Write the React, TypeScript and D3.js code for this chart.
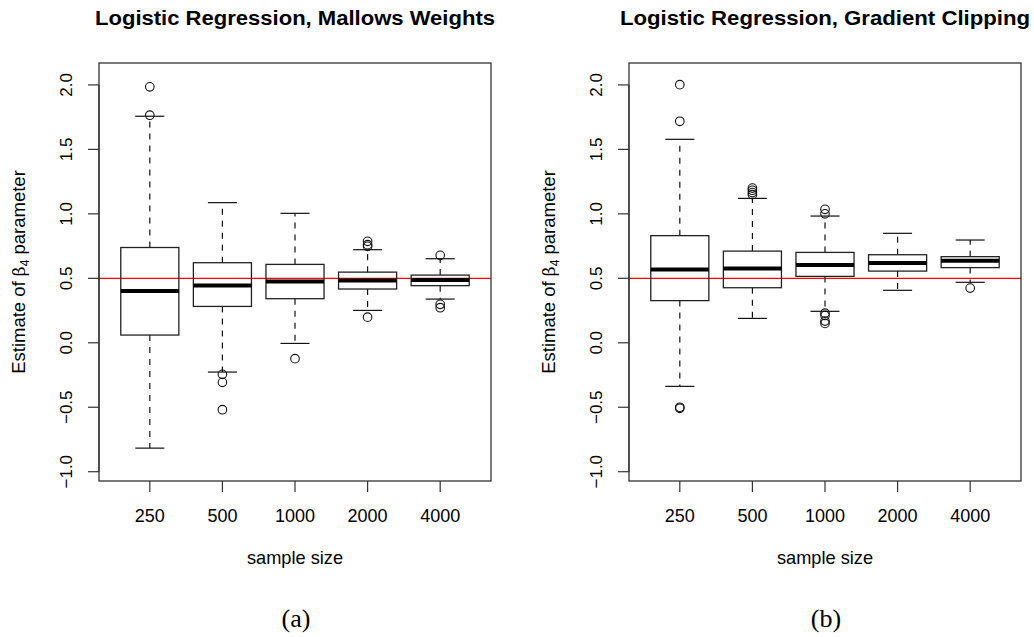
import React, { useEffect, useRef } from 'react';
import * as d3 from 'd3';

// sample sizes on the x axis
const sampleSizes = ['250', '500', '1000', '2000', '4000'];
const yTicks = [-1.0, -0.5, 0.0, 0.5, 1.0, 1.5, 2.0];
const trueValue = 0.5;

// Mallows weights panel: [lower whisker, q1, median, q3, upper whisker]
const mallowsStats = [
  [-0.817, 0.06, 0.401, 0.739, 1.757],
  [-0.227, 0.282, 0.445, 0.621, 1.087],
  [-0.005, 0.342, 0.476, 0.608, 1.004],
  [0.251, 0.417, 0.484, 0.548, 0.722],
  [0.339, 0.443, 0.486, 0.525, 0.652],
];
const mallowsOutliers = [
  [1.985, 1.765],
  [-0.245, -0.307, -0.519],
  [-0.123],
  [0.787, 0.761, 0.748, 0.199],
  [0.678, 0.298, 0.272],
];

// Gradient clipping panel
const clippingStats = [
  [-0.338, 0.327, 0.569, 0.831, 1.578],
  [0.189, 0.427, 0.577, 0.711, 1.12],
  [0.244, 0.515, 0.603, 0.701, 0.983],
  [0.407, 0.556, 0.619, 0.683, 0.849],
  [0.469, 0.583, 0.637, 0.668, 0.797],
];
const clippingOutliers = [
  [2.002, 1.718, -0.5, -0.508],
  [1.2, 1.183, 1.165, 1.149],
  [1.035, 1.0, 0.23, 0.212, 0.168, 0.15],
  [],
  [0.424],
];

const SANS = '"Liberation Sans", Arial, Helvetica, sans-serif';

type Sel = d3.Selection<SVGGElement, unknown, null, undefined>;

const drawPanel = (
  g: Sel,
  left: number,
  title: string,
  titleWidth: number,
  caption: string,
  stats: number[][],
  outliers: number[][]
) => {
  const right = left + 392;
  const top = 63;
  const bottom = 481;

  const x = d3.scalePoint<string>().domain(sampleSizes).range([left, right]).padding(0.7);
  const y = d3.scaleLinear().domain([-1.072, 2.17]).range([bottom, top]);
  const boxW = x.step() * 0.8;
  const cx = (left + right) / 2;

  // title
  g.append('text')
    .attr('x', cx)
    .attr('y', 25)
    .attr('text-anchor', 'middle')
    .attr('font-family', SANS)
    .attr('font-weight', 'bold')
    .attr('font-size', 20)
    .attr('textLength', titleWidth)
    .attr('lengthAdjust', 'spacingAndGlyphs')
    .text(title);

  // true value line
  g.append('line')
    .attr('x1', left)
    .attr('x2', right)
    .attr('y1', y(trueValue))
    .attr('y2', y(trueValue))
    .attr('stroke', '#ff0000')
    .attr('stroke-width', 1.3);

  sampleSizes.forEach((s, i) => {
    const [lo, q1, med, q3, hi] = stats[i];
    const px = x(s)!;
    const box = g.append('g');

    // whiskers
    box.append('line')
      .attr('x1', px).attr('x2', px)
      .attr('y1', y(q3)).attr('y2', y(hi))
      .attr('stroke', '#111').attr('stroke-width', 1.2)
      .attr('stroke-dasharray', '6,6');
    box.append('line')
      .attr('x1', px).attr('x2', px)
      .attr('y1', y(q1)).attr('y2', y(lo))
      .attr('stroke', '#111').attr('stroke-width', 1.2)
      .attr('stroke-dasharray', '6,6');
    [lo, hi].forEach(v => {
      box.append('line')
        .attr('x1', px - boxW / 4).attr('x2', px + boxW / 4)
        .attr('y1', y(v)).attr('y2', y(v))
        .attr('stroke', '#111').attr('stroke-width', 1.2);
    });

    // box
    box.append('rect')
      .attr('x', px - boxW / 2)
      .attr('y', y(q3))
      .attr('width', boxW)
      .attr('height', y(q1) - y(q3))
      .attr('fill', 'none')
      .attr('stroke', '#222')
      .attr('stroke-width', 1.3);

    // median
    box.append('line')
      .attr('x1', px - boxW / 2).attr('x2', px + boxW / 2)
      .attr('y1', y(med)).attr('y2', y(med))
      .attr('stroke', '#000').attr('stroke-width', 4);

    // outliers
    box.selectAll('circle')
      .data(outliers[i])
      .enter()
      .append('circle')
      .attr('cx', px)
      .attr('cy', d => y(d))
      .attr('r', 4.3)
      .attr('fill', 'none')
      .attr('stroke', '#111')
      .attr('stroke-width', 1.1);
  });

  // frame
  g.append('rect')
    .attr('x', left)
    .attr('y', top)
    .attr('width', right - left)
    .attr('height', bottom - top)
    .attr('fill', 'none')
    .attr('stroke', '#333')
    .attr('stroke-width', 1.3);

  // y axis
  const yAxis = g.append('g').attr('transform', `translate(${left},0)`);
  yAxis.append('line')
    .attr('y1', y(yTicks[0])).attr('y2', y(yTicks[yTicks.length - 1]))
    .attr('stroke', '#333').attr('stroke-width', 1.2);
  yTicks.forEach(t => {
    yAxis.append('line')
      .attr('x1', -11).attr('x2', 0)
      .attr('y1', y(t)).attr('y2', y(t))
      .attr('stroke', '#333').attr('stroke-width', 1.2);
    yAxis.append('text')
      .attr('transform', `translate(-27,${y(t)}) rotate(-90)`)
      .attr('text-anchor', 'middle')
      .attr('font-family', SANS)
      .attr('font-size', 17)
      .text(d3.format('.1f')(t));
  });

  // y label
  const yl = g.append('text')
    .attr('transform', `translate(${left - 74},${(top + bottom) / 2}) rotate(-90)`)
    .attr('text-anchor', 'middle')
    .attr('font-family', SANS)
    .attr('font-size', 18.5);
  yl.append('tspan').text('Estimate of ');
  yl.append('tspan').attr('font-family', '"DejaVu Serif", serif').attr('font-size', 17).text('β');
  yl.append('tspan').attr('font-size', 12).attr('dy', 4).text('4');
  yl.append('tspan').attr('dy', -4).text(' parameter');

  // x axis
  sampleSizes.forEach(s => {
    g.append('line')
      .attr('x1', x(s)!).attr('x2', x(s)!)
      .attr('y1', bottom).attr('y2', bottom + 11)
      .attr('stroke', '#333').attr('stroke-width', 1.2);
    g.append('text')
      .attr('x', x(s)!)
      .attr('y', bottom + 41)
      .attr('text-anchor', 'middle')
      .attr('font-family', SANS)
      .attr('font-size', 18)
      .text(s);
  });

  g.append('text')
    .attr('x', cx)
    .attr('y', 564)
    .attr('text-anchor', 'middle')
    .attr('font-family', SANS)
    .attr('font-size', 18.2)
    .text('sample size');

  // sub-figure caption
  g.append('text')
    .attr('x', cx + 1)
    .attr('y', 627)
    .attr('text-anchor', 'middle')
    .attr('font-family', '"Liberation Serif", "DejaVu Serif", serif')
    .attr('font-size', 26)
    .text(caption);
};

const App: React.FC = () => {
  const svgRef = useRef<SVGSVGElement>(null);

  useEffect(() => {
    if (!svgRef.current) return;
    const root = d3.select(svgRef.current);
    root.selectAll('*').remove();
    root.append('rect').attr('width', 1034).attr('height', 637).attr('fill', '#fff');

    drawPanel(root.append('g'), 99, 'Logistic Regression, Mallows Weights', 400, '(a)', mallowsStats, mallowsOutliers);
    drawPanel(root.append('g'), 629, 'Logistic Regression, Gradient Clipping', 410, '(b)', clippingStats, clippingOutliers);
  }, []);

  return (
    <svg
      ref={svgRef}
      width={1034}
      height={637}
      style={{ position: 'absolute', left: 0, top: 0, display: 'block' }}
    />
  );
};

export default App;
